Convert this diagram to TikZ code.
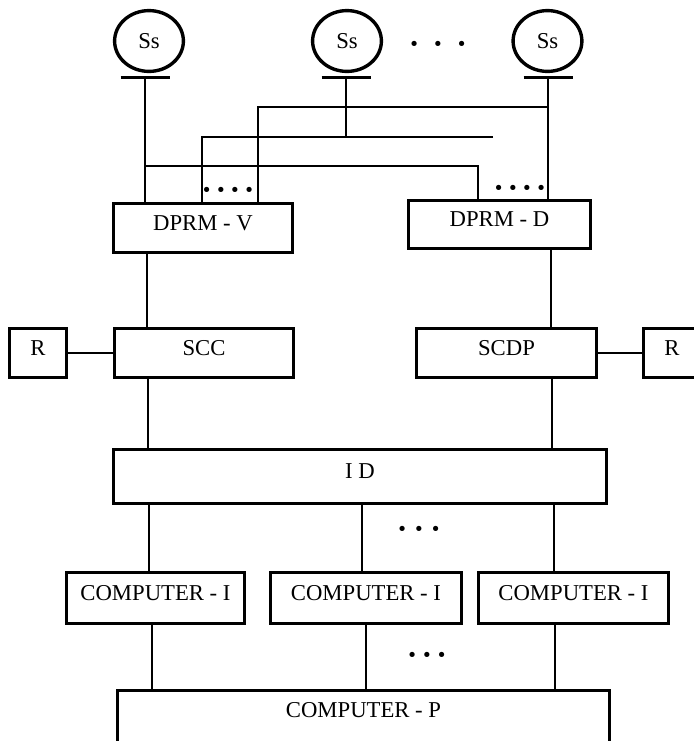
\documentclass[tikz,border=0pt]{standalone}
\usepackage{fontspec}
\setmainfont{Liberation Serif}
\usetikzlibrary{shapes.geometric, calc}

\begin{document}
\begin{tikzpicture}[x=0.5pt, y=-0.5pt,
  blk/.style={draw, line width=1.7pt, inner sep=0pt, text depth=5pt, font=\fontsize{11.35}{13}\selectfont},
  ss/.style={draw, ellipse, line width=1.7pt, minimum width=34.4pt, minimum height=30.4pt, inner sep=0pt, font=\fontsize{11.35}{13}\selectfont},
  wire/.style={line width=1.15pt},
  sbar/.style={line width=1.5pt},
  dots/.style={inner sep=0pt, font=\fontsize{16}{18}\selectfont\bfseries}
]
  \useasboundingbox (0,0) rectangle (693,741);
  % sources
  \node[ss] (s1) at (149,41) {Ss};
  \node[ss] (s2) at (347,41) {Ss};
  \node[ss] (s3) at (547.5,41) {Ss};
  \node[dots] (sdots) at (438,47.5) {·\hspace{6.5pt}·\hspace{6.5pt}·};
  \coordinate (b1) at (145,77);
  \coordinate (b2) at (346,77);
  \coordinate (b3) at (548,77);
  \foreach \b in {b1,b2,b3}
    \draw[sbar] ([xshift=-12.25pt]\b) -- ([xshift=12.25pt]\b);

  \node[blk, minimum width=89.3pt, minimum height=24.3pt] (dv) at (203,228) {DPRM - V};
  \node[blk, minimum width=90.8pt, minimum height=23.8pt] (dd) at (499.5,224.5) {DPRM - D};
  \node[blk, minimum width=28.3pt, minimum height=24.3pt] (rl) at (38,353) {R};
  \node[blk, minimum width=89.3pt, minimum height=24.3pt] (scc) at (204,353) {SCC};
  \node[blk, minimum width=89.8pt, minimum height=24.3pt] (scdp) at (506.5,353) {SCDP};
  \node[blk, minimum width=28.3pt, minimum height=24.3pt] (rr) at (672,353) {R};
  \node[blk, minimum width=246.3pt, minimum height=26.8pt] (id) at (360,476.5) {I D};
  \node[blk, minimum width=88.8pt, minimum height=25.3pt] (c1) at (155.5,598) {COMPUTER - I};
  \node[blk, minimum width=95.3pt, minimum height=25.3pt] (c2) at (366,598) {COMPUTER - I};
  \node[blk, minimum width=94.8pt, minimum height=25.3pt] (c3) at (573.5,598) {COMPUTER - I};
  \node[blk, minimum width=245.8pt, anchor=north, inner ysep=5.9pt, text depth=16pt] (cp) at (363.5,689) {COMPUTER - P};

  % bus from the sources
  \coordinate (j1) at (145,166);
  \coordinate (j2) at (478,166);
  \coordinate (k1) at (202,137);
  \coordinate (k2) at (346,137);
  \coordinate (k3) at (493,137);
  \coordinate (m1) at (258,107);
  \coordinate (m2) at (548,107);
  \draw[wire] (b1) -- (b1 |- dv.north);
  \draw[wire] (j1) -- (j2) -- (j2 |- dd.north);
  \draw[wire] (b2) -- (k2);
  \draw[wire] (k3) -- (k1) -- (k1 |- dv.north);
  \draw[wire] (b3) -- (b3 |- dd.north);
  \draw[wire] (m2) -- (m1) -- (m1 |- dv.north);
  \node[dots] (vdots) at (228,193.5) {·\hspace{1.75pt}·\hspace{1.75pt}·\hspace{1.75pt}·};
  \node[dots] (ddots) at (520,191.5) {·\hspace{1.75pt}·\hspace{1.75pt}·\hspace{1.75pt}·};

  \draw[wire] (rl) -- (scc);
  \draw[wire] (scdp) -- (rr);
  \foreach \a/\b/\dx in {dv/scc/-28pt, dd/scdp/25.75pt, scc/id/-28pt, scdp/id/22.75pt,
                         id/c1/-105.5pt, id/c2/1pt, id/c3/97pt,
                         c1/cp/-1.75pt, c2/cp/0pt, c3/cp/-9.25pt}
  {
    \coordinate (t) at ([xshift=\dx]\a.south);
    \draw[wire] (t) -- (t |- \b.north);
  }
  \node[dots] (idots) at (419,532.5) {·\hspace{3pt}·\hspace{3pt}·};
  \node[dots] (pdots) at (427,658.5) {·\hspace{2pt}·\hspace{2pt}·};
\end{tikzpicture}
\end{document}
